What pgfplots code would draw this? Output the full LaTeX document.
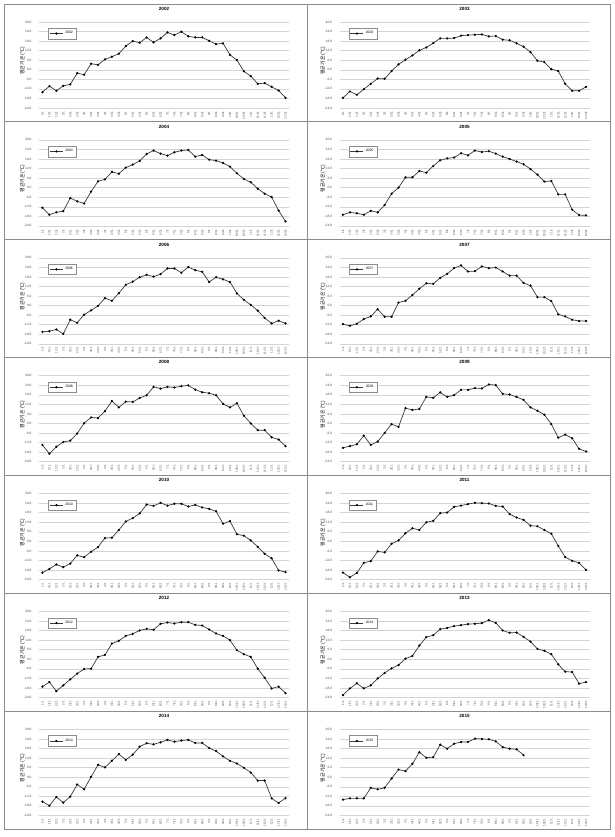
\documentclass[border=0pt]{standalone}
\usepackage{pgfplots}
\usepackage{pgfplotstable}
\pgfplotsset{compat=1.18}
\usepackage{fontspec}
\setmainfont{Liberation Sans}
\newfontfamily\kr{Noto Sans CJK KR}

\pgfplotstableread{
idx a2002 a2003 a2004 a2005 a2006 a2007 a2008 a2009 a2010 a2011 a2012 a2013 a2014 a2015
0 -14.0 -17.6 -12.6 -17.0 -16.5 -11.7 -13.5 -15.3 -19.6 -19.6 -17.2 -22.5 -15.3 -14.1
1 -10.3 -13.6 -17.0 -15.5 -16.1 -12.7 -19.0 -14.2 -17.3 -22.5 -14.3 -18.3 -17.9 -13.3
2 -13.2 -15.7 -15.5 -16.1 -15.0 -11.4 -14.6 -13.1 -14.5 -19.8 -20.0 -15.1 -12.4 -13.3
3 -10.1 -12.2 -14.7 -17.0 -17.8 -8.5 -11.6 -7.6 -16.2 -13.5 -16.4 -18.3 -16.0 -13.3
4 -9.2 -8.8 -6.5 -14.5 -8.9 -6.8 -10.8 -13.5 -13.9 -12.4 -12.6 -16.4 -12.2 -6.7
5 -2.1 -5.5 -8.6 -15.5 -10.8 -2.3 -6.3 -11.4 -8.8 -6.3 -9.0 -12.0 -4.6 -7.6
6 -3.1 -5.7 -9.9 -10.9 -5.7 -7.0 0.2 -5.9 -9.9 -6.9 -6.1 -8.6 -7.6 -6.7
7 3.8 -0.8 -2.5 -3.8 -3.0 -7.0 3.8 -0.4 -6.5 -1.5 -5.9 -5.7 0.2 -0.8
8 3.1 3.4 4.0 0.0 -0.2 1.9 3.4 -2.1 -3.6 0.6 1.5 -3.6 7.8 4.8
9 6.5 6.3 5.2 6.5 4.7 3.0 7.8 9.6 2.1 5.1 2.7 0.4 6.1 3.8
10 8.2 9.0 9.9 6.5 3.0 6.6 14.1 8.5 2.3 8.2 9.9 2.1 10.3 8.4
11 10.1 12.2 8.8 10.5 7.8 10.6 10.1 9.1 7.2 7.2 11.6 8.6 14.5 15.7
12 14.9 14.0 12.6 9.4 13.1 14.0 13.7 16.7 12.5 12.0 14.7 13.9 10.9 12.2
13 18.0 16.8 14.5 13.6 15.0 13.6 13.5 16.1 14.6 12.9 16.0 15.1 14.1 12.6
14 17.0 19.7 16.8 17.2 17.8 17.4 16.0 19.5 17.6 17.7 18.1 18.9 19.2 20.4
15 20.3 19.7 21.2 18.4 19.3 19.9 17.7 16.7 23.1 18.1 19.1 19.7 21.3 17.9
16 17.2 19.9 23.3 18.9 18.2 23.5 23.0 17.8 22.3 21.7 18.5 20.8 20.6 21.0
17 19.7 21.4 21.4 21.6 19.7 25.2 21.9 21.1 24.2 22.5 22.3 21.4 21.9 22.1
18 23.5 21.8 20.1 20.3 23.3 21.4 23.0 21.1 22.5 23.4 23.1 22.1 23.4 22.1
19 21.8 22.0 22.2 23.3 23.3 21.6 22.6 22.2 23.6 24.2 22.5 22.3 22.3 24.2
20 23.9 22.2 23.3 22.4 20.6 24.6 23.4 22.0 23.6 24.0 23.3 22.7 23.0 24.0
21 21.0 21.0 23.7 22.9 24.2 23.5 23.9 24.5 21.9 23.8 23.3 24.6 23.4 23.8
22 20.3 21.2 19.5 21.4 22.2 23.9 21.3 24.1 22.9 22.3 21.6 22.9 21.5 22.5
23 20.3 18.9 20.5 19.5 21.2 21.4 19.6 18.6 21.3 21.9 21.2 18.1 21.5 18.9
24 18.2 18.5 17.6 18.0 14.8 18.8 19.0 18.2 20.4 17.1 18.7 16.6 18.3 17.9
25 16.1 16.6 17.0 16.4 17.8 18.8 17.7 16.7 18.9 15.0 16.2 16.8 16.4 17.5
26 16.6 14.5 15.5 14.7 16.5 14.2 12.3 14.8 11.1 13.5 14.7 14.1 13.1 13.9
27 9.4 11.1 13.2 11.7 14.8 12.5 10.1 10.1 12.7 9.9 12.0 11.1 10.3 nan
28 6.1 5.7 9.0 8.2 7.6 5.3 12.7 8.0 4.5 9.5 5.7 6.5 8.6 nan
29 -1.0 4.8 5.5 3.8 3.6 5.3 4.9 5.5 3.6 7.2 3.2 5.3 5.9 nan
30 -4.0 0.4 3.4 4.2 0.4 2.8 0.0 -0.4 0.6 4.8 1.5 3.2 2.9 nan
31 -8.8 -0.8 -0.6 -4.2 -3.2 -5.5 -4.2 -8.9 -3.4 -2.9 -5.9 -3.2 -2.1 nan
32 -8.4 -8.8 -3.8 -4.2 -7.8 -6.8 -4.2 -7.0 -7.8 -9.9 -11.6 -7.8 -2.1 nan
33 -10.7 -13.2 -5.9 -13.8 -11.2 -8.9 -8.7 -9.3 -10.6 -12.2 -18.3 -8.0 -13.3 nan
34 -13.0 -13.2 -14.3 -17.2 -9.5 -9.7 -10.1 -15.9 -18.2 -13.5 -17.2 -15.3 -16.2 nan
35 -17.6 -10.7 -21.2 -17.4 -11.2 -9.7 -14.2 -17.6 -19.3 -17.9 -21.2 -14.3 -13.1 nan
}\datatable

\definecolor{gridc}{HTML}{D4D4D4}
\definecolor{linec}{HTML}{3A3A3A}
\definecolor{framec}{HTML}{8C8C8C}

\pgfplotsset{
  panel/.style={
    scale only axis, width=250pt, height=86pt, anchor=south west,
    xmin=-0.5, xmax=35.5, ymin=-24, ymax=30,
    ytick={-24,-18,...,30},
    xtick={0,...,35},
    xticklabels={1/1,1/11,1/21,2/1,2/11,2/21,3/1,3/11,3/21,4/1,4/11,4/21,5/1,5/11,5/21,6/1,6/11,6/21,7/1,7/11,7/21,8/1,8/11,8/21,9/1,9/11,9/21,10/1,10/11,10/21,11/1,11/11,11/21,12/1,12/11,12/21},
    /pgf/number format/assume math mode=true,
    yticklabel={\pgfmathprintnumber[fixed,fixed zerofill,precision=1]{\tick}},
    yticklabel style={font=\fontsize{3.2}{3.6}\selectfont, color=black!70, xshift=-4pt},
    xticklabel style={font=\fontsize{3}{3.4}\selectfont, color=black!70, rotate=90, anchor=east, yshift=0pt},
    major tick length=0pt,
    axis line style={draw=none},
    ymajorgrids, grid style={gridc, line width=0.45pt},
    title style={font=\fontsize{4.6}{5}\selectfont\bfseries, at={(0.5,1)}, anchor=south, yshift=5.5pt, inner sep=0pt},
    ylabel={\kr 평균기온 (℃)},
    ylabel style={font=\fontsize{5}{6}\selectfont, at={(axis description cs:-0.066,0.55)}, rotate=0, anchor=center},
    legend style={at={(0.036,0.93)}, anchor=north west, draw=framec, line width=0.4pt,
      font=\fontsize{3.4}{3.8}\selectfont, inner sep=1.4pt, row sep=0pt,
      /tikz/every even column/.append style={column sep=0pt}},
    legend image code/.code={\draw[mark repeat=2,mark phase=2] plot coordinates {(0pt,0pt)(6.5pt,0pt)(13pt,0pt)};},
    clip=false,
  },
  ser/.style={color=linec, line width=0.7pt, mark=*, mark size=0.75pt, mark options={fill=black, draw=black}},
}

\newcommand{\panel}[4]{%
  \begin{axis}[panel, at={(#1pt,#2pt)}, title={#3}]
    \addplot[ser] table[x=idx, y=#4] {\datatable};
    \addlegendentry{#3}
  \end{axis}}

\begin{document}
\begin{tikzpicture}[x=1pt,y=1pt]
  \path[use as bounding box] (0,0) rectangle (615,837);
  \fill[white] (0,0) rectangle (615,837);
  \foreach \r in {0,...,6} {
    \draw[framec, line width=0.9pt] (4,{833-117.9*\r}) rectangle (307,{833-117.9*(\r+1)});
    \draw[framec, line width=0.9pt] (307,{833-117.9*\r}) rectangle (610,{833-117.9*(\r+1)});
  }
  \panel{39}{729}{2002}{a2002}
  \panel{339.5}{729}{2003}{a2003}
  \panel{39}{611.1}{2004}{a2004}
  \panel{339.5}{611.1}{2005}{a2005}
  \panel{39}{493.2}{2006}{a2006}
  \panel{339.5}{493.2}{2007}{a2007}
  \panel{39}{375.3}{2008}{a2008}
  \panel{339.5}{375.3}{2009}{a2009}
  \panel{39}{257.4}{2010}{a2010}
  \panel{339.5}{257.4}{2011}{a2011}
  \panel{39}{139.5}{2012}{a2012}
  \panel{339.5}{139.5}{2013}{a2013}
  \panel{39}{21.6}{2014}{a2014}
  \panel{339.5}{21.6}{2015}{a2015}
\end{tikzpicture}
\end{document}
